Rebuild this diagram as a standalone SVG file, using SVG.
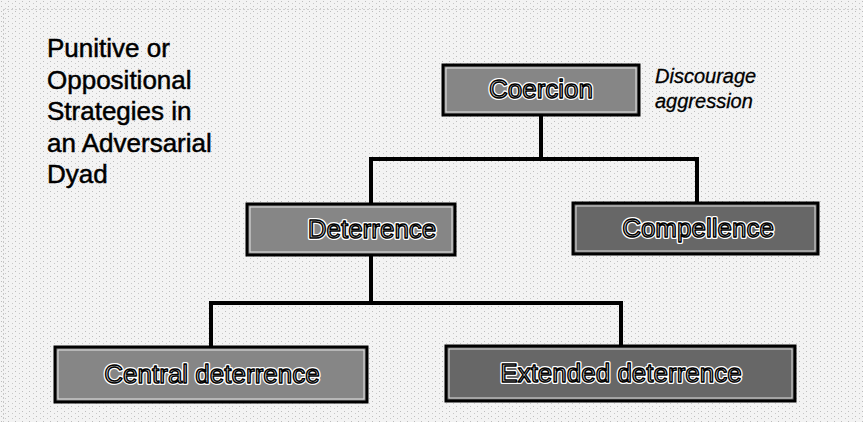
<svg xmlns="http://www.w3.org/2000/svg" width="863" height="422" viewBox="0 0 863 422">
  <defs>
    <pattern id="speck" width="7" height="5" patternUnits="userSpaceOnUse">
      <rect width="7" height="5" fill="#f3f3f3"/>
      <rect x="1" y="1" width="1" height="1" fill="#bdbdbd"/>
      <rect x="5" y="3" width="1" height="1" fill="#c8c8c8"/>
    </pattern>
  </defs>
  <style>
    .box { stroke: #000; stroke-width: 3; }
    .mid { fill: #868686; }
    .dark { fill: #676767; }
    .inner { fill: none; stroke: #ffffff; stroke-width: 1; opacity: 0.8; }
    .halo { font-family: "Liberation Sans", Arial, sans-serif; font-size: 26px; text-anchor: middle; fill: none; stroke: #ffffff; stroke-width: 4; stroke-linejoin: round; }
    .lbl { font-family: "Liberation Sans", Arial, sans-serif; font-size: 26px; text-anchor: middle; fill: #d0d0d0; stroke: #000; stroke-width: 1.4; stroke-linejoin: round; }
    .title { font-family: "Liberation Sans", Arial, sans-serif; font-size: 26px; fill: #000; stroke: #000; stroke-width: 0.5; }
    .note { font-family: "Liberation Sans", Arial, sans-serif; font-size: 20px; font-style: italic; fill: #000; stroke: #000; stroke-width: 0.3; }
    .conn { fill: none; stroke: #000; stroke-width: 4; stroke-linejoin: miter; stroke-linecap: square; }
  </style>
  <rect width="863" height="422" fill="url(#speck)"/>
  <line x1="3.5" y1="9" x2="3.5" y2="422" stroke="#c8c8c8" stroke-width="1" stroke-dasharray="2 2"/>
  <line x1="3" y1="9.5" x2="863" y2="9.5" stroke="#cfcfcf" stroke-width="1" stroke-dasharray="2 2"/>

  <g id="title">
    <text class="title" x="47" y="57">Punitive or</text>
    <text class="title" x="47" y="88.5">Oppositional</text>
    <text class="title" x="47" y="120">Strategies in</text>
    <text class="title" x="47" y="151.5">an Adversarial</text>
    <text class="title" x="47" y="183">Dyad</text>
  </g>

  <g id="connectors">
    <line class="conn" x1="541" y1="115" x2="541" y2="159"/>
    <polyline class="conn" points="371,204 371,159 697,159 697,203"/>
    <line class="conn" x1="371" y1="255" x2="371" y2="303"/>
    <polyline class="conn" points="211,347 211,303 621,303 621,346"/>
  </g>

  <g id="coercion">
    <rect class="box mid" x="443" y="65" width="196" height="50"/>
    <rect class="inner" x="446" y="68" width="190" height="44"/>
    <text class="halo" x="541" y="98">Coercion</text>
    <text class="lbl" x="541" y="98">Coercion</text>
  </g>

  <g id="note">
    <text class="note" x="655" y="83">Discourage</text>
    <text class="note" x="655" y="108">aggression</text>
  </g>

  <g id="deterrence">
    <rect class="box mid" x="247" y="204" width="208" height="51"/>
    <rect class="inner" x="250" y="207" width="202" height="45"/>
    <text class="halo" x="372" y="238">Deterrence</text>
    <text class="lbl" x="372" y="238">Deterrence</text>
  </g>

  <g id="compellence">
    <rect class="box dark" x="573" y="203" width="245" height="51"/>
    <rect class="inner" x="576" y="206" width="239" height="45"/>
    <text class="halo" x="698" y="237">Compellence</text>
    <text class="lbl" x="698" y="237">Compellence</text>
  </g>

  <g id="central">
    <rect class="box mid" x="55" y="347" width="312" height="55"/>
    <rect class="inner" x="58" y="350" width="306" height="49"/>
    <text class="halo" x="212" y="383">Central deterrence</text>
    <text class="lbl" x="212" y="383">Central deterrence</text>
  </g>

  <g id="extended">
    <rect class="box dark" x="446" y="346" width="349" height="55"/>
    <rect class="inner" x="449" y="349" width="343" height="49"/>
    <text class="halo" x="621" y="382">Extended deterrence</text>
    <text class="lbl" x="621" y="382">Extended deterrence</text>
  </g>
</svg>
